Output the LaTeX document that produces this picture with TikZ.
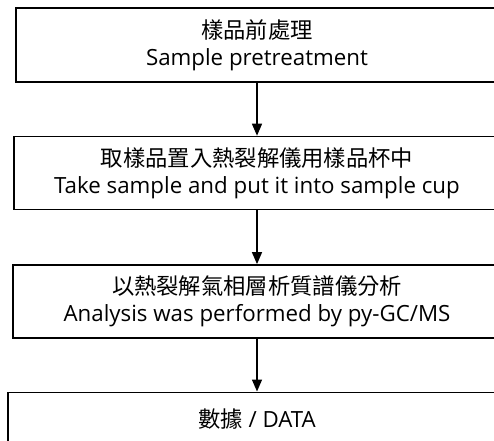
\documentclass[tikz,border=0pt]{standalone}
\usepackage{fontspec}
\setmainfont{Open Sans}
\newfontfamily\cjk{Noto Sans CJK TC}
\usetikzlibrary{positioning,arrows.meta}

\begin{document}
\begin{tikzpicture}[x=1pt, y=-1pt,
        stepbox/.style={draw, line width=1.4pt, minimum height=73pt, inner sep=0pt,
            align=center, font=\fontsize{22.3}{27}\selectfont},
        flow/.style={line width=1.4pt, -{Triangle[length=12pt, width=10pt]}}]
        \useasboundingbox (0,0) rectangle (494,440);
        \clip (0,0) rectangle (494,440);
        \node [stepbox, minimum width=482pt, minimum height=74pt] (pretreat) at (257,45)
            {{\cjk 樣品前處理}\\Sample pretreatment};
        \node [stepbox, minimum width=486pt, below=53pt of pretreat] (cup)
            {{\cjk 取樣品置入熱裂解儀用樣品杯中}\\Take sample and put it into sample cup};
        \node [stepbox, minimum width=488pt, below=54pt of cup] (pygcms)
            {{\cjk 以熱裂解氣相層析質譜儀分析}\\Analysis was performed by py-GC/MS};
        \node [stepbox, minimum width=498pt, minimum height=54pt, below=53pt of pygcms] (data)
            {{\cjk 數據} / DATA};
        \draw [flow] (pretreat) -- (cup);
        \draw [flow] (cup) -- (pygcms);
        \draw [flow] (pygcms) -- (data);
    \end{tikzpicture}
\end{document}
